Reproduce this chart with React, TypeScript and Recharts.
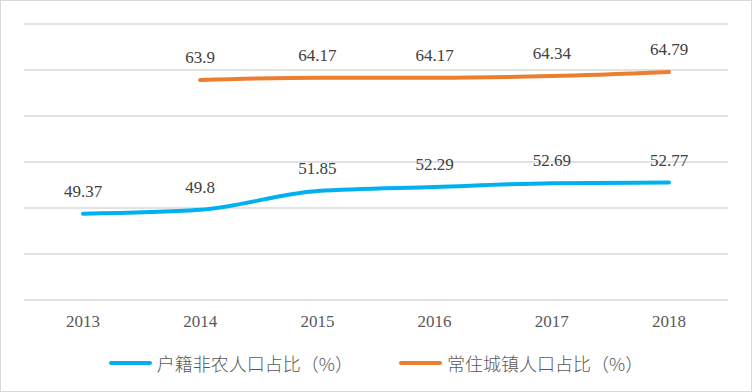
import React from "react";
import { LineChart, Line, XAxis, YAxis, CartesianGrid, LabelList } from "recharts";

const years = ["2013", "2014", "2015", "2016", "2017", "2018"];
const hukouShare = [49.37, 49.8, 51.85, 52.29, 52.69, 52.77];
const residentShare: (number | null)[] = [null, 63.9, 64.17, 64.17, 64.34, 64.79];
const yTicks = [40, 45, 50, 55, 60, 65, 70];

const seriesNames = ["户籍非农人口占比（%）", "常住城镇人口占比（%）"];
const colors = ["#00b0f0", "#ed7d31"];

const data = years.map((y, i) => ({
    year: y,
    hukou: hukouShare[i],
    resident: residentShare[i],
}));

const numFont = '"Liberation Serif", "Times New Roman", serif';

// value label drawn above each point
const ValueLabel = (props: any) => {
    const { x, y, value } = props;
    if (value == null) return null;
    return (
        <text x={x} y={y - 17} textAnchor="middle" fill="#404040" fontSize={17} style={{ fontFamily: numFont }}>
            {value}
        </text>
    );
};

const LegendBox = () => (
    <div style={{ position: "absolute", left: 0, top: 350, width: 750, display: "flex", justifyContent: "center", gap: 46, alignItems: "center" }}>
        {seriesNames.map((n, i) => (
            <div key={n} style={{ display: "flex", alignItems: "center" }}>
                <span style={{ display: "inline-block", width: 43, height: 4, borderRadius: 2, background: colors[i], marginRight: 5 }} />
                <span style={{ fontFamily: '"Noto Sans CJK SC", sans-serif', fontSize: 18, lineHeight: "24px", color: "#595959", fontWeight: 300 }}>{n}</span>
            </div>
        ))}
    </div>
);

export default function App() {
    return (
        <div style={{ position: "absolute", left: 0, top: 0, width: 752, height: 392, boxSizing: "border-box", border: "1px solid #d9d9d9", background: "#fff", fontFamily: numFont }}>
            <LineChart width={750} height={390} data={data} margin={{ top: 23, right: 23, left: 23, bottom: 47 }}>
                <CartesianGrid vertical={false} stroke="#d9d9d9" strokeWidth={1.3} />
                <XAxis
                    dataKey="year"
                    axisLine={false}
                    tickLine={false}
                    padding={{ left: 59, right: 59 }}
                    tick={{ fill: "#595959", fontSize: 17, fontFamily: numFont }}
                    tickMargin={9}
                    height={44}
                />
                <YAxis hide domain={[40, 70]} ticks={yTicks} />
                <Line
                    dataKey="hukou"
                    name={seriesNames[0]}
                    type="monotone"
                    stroke={colors[0]}
                    strokeWidth={4}
                    strokeLinecap="round"
                    dot={false}
                    activeDot={false}
                    isAnimationActive={false}
                >
                    <LabelList dataKey="hukou" content={<ValueLabel />} />
                </Line>
                <Line
                    dataKey="resident"
                    name={seriesNames[1]}
                    type="monotone"
                    stroke={colors[1]}
                    strokeWidth={4}
                    strokeLinecap="round"
                    dot={false}
                    activeDot={false}
                    isAnimationActive={false}
                >
                    <LabelList dataKey="resident" content={<ValueLabel />} />
                </Line>
            </LineChart>
            <LegendBox />
        </div>
    );
}
